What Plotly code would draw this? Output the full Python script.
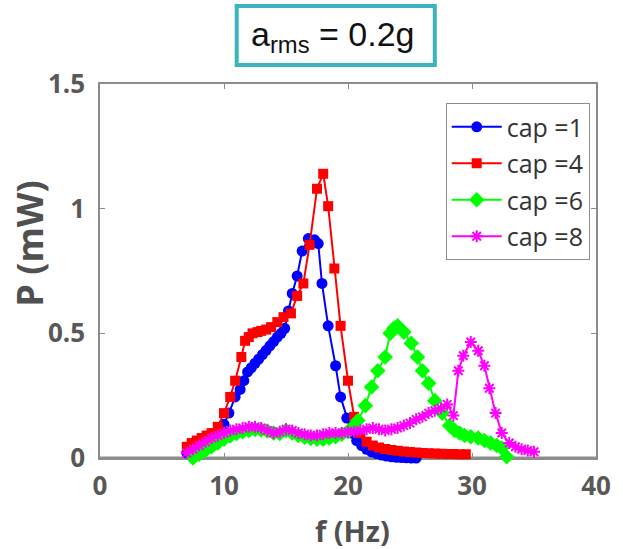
import plotly.graph_objects as go

# Harvested power P (mW) versus excitation frequency f (Hz), one sweep per cap setting
blue_f = [7.0, 7.5, 8.0, 8.5, 9.0, 9.5, 10.0, 10.4, 10.9, 11.3, 11.6, 11.9, 12.2, 12.5, 12.8, 13.1,
          13.4, 13.7, 14.0, 14.3, 14.6, 14.9, 15.2, 15.5, 15.9, 16.3, 16.8, 17.3, 17.6, 17.9, 18.4,
          19.0, 19.4, 19.9, 20.3, 20.7, 21.1, 21.5, 21.9, 22.3, 22.7, 23.1, 23.5, 23.9, 24.3, 24.7,
          25.1, 25.5]
blue_P = [0.02, 0.035, 0.05, 0.065, 0.08, 0.105, 0.135, 0.18, 0.245, 0.275, 0.31, 0.345, 0.362,
          0.38, 0.397, 0.415, 0.432, 0.45, 0.467, 0.485, 0.50, 0.52, 0.59, 0.66, 0.73, 0.83, 0.88,
          0.875, 0.86, 0.70, 0.53, 0.37, 0.245, 0.16, 0.10, 0.07, 0.05, 0.035, 0.025, 0.018, 0.012,
          0.008, 0.005, 0.003, 0.002, 0.001, 0.0, 0.0]

red_f = [7.0, 7.4, 7.8, 8.2, 8.6, 9.0, 9.5, 10.0, 10.5, 10.9, 11.4, 11.7, 12.0, 12.3, 12.7, 13.0,
         13.4, 13.8, 14.3, 14.8, 15.4, 15.9, 16.4, 16.9, 17.5, 18.0, 18.4, 18.9, 19.4, 20.0, 20.5,
         21.0, 21.5, 22.0, 22.5, 23.0, 23.5, 24.0, 24.5, 25.0, 25.5, 26.0, 26.5, 27.0, 27.5, 28.0,
         28.5, 29.0, 29.5]
red_P = [0.045, 0.06, 0.07, 0.08, 0.09, 0.10, 0.125, 0.18, 0.245, 0.31, 0.405, 0.47, 0.485, 0.50,
         0.505, 0.51, 0.515, 0.525, 0.545, 0.565, 0.58, 0.65, 0.70, 0.855, 1.08, 1.14, 1.01, 0.76,
         0.53, 0.31, 0.165, 0.10, 0.065, 0.05, 0.042, 0.036, 0.032, 0.029, 0.026, 0.024, 0.022,
         0.02, 0.019, 0.018, 0.017, 0.016, 0.016, 0.015, 0.015]

green_f = [7.0, 7.5, 8.0, 8.5, 9.0, 9.5, 10.0, 10.5, 11.0, 11.5, 12.0, 12.5, 13.0, 13.5, 14.0, 14.5,
           15.0, 15.5, 16.0, 16.5, 17.0, 17.5, 18.0, 18.5, 19.0, 19.5, 20.0, 20.4, 20.8, 21.4, 21.9,
           22.4, 23.0, 23.4, 23.7, 24.0, 24.5, 25.1, 25.6, 26.0, 26.5, 27.0, 27.6, 28.2, 28.6, 29.0,
           29.4, 29.9, 30.5, 31.0, 31.5, 32.0, 32.4, 32.8]
green_P = [-0.01, 0.0, 0.015, 0.03, 0.045, 0.06, 0.075, 0.088, 0.098, 0.105, 0.11, 0.115, 0.113,
           0.108, 0.10, 0.098, 0.11, 0.10, 0.09, 0.083, 0.078, 0.075, 0.075, 0.08, 0.085, 0.095,
           0.105, 0.125, 0.15, 0.21, 0.285, 0.35, 0.405, 0.50, 0.52, 0.53, 0.505, 0.46, 0.405, 0.35,
           0.30, 0.23, 0.18, 0.13, 0.11, 0.10, 0.09, 0.085, 0.08, 0.07, 0.06, 0.05, 0.04, 0.005]

mag_f = [7.0, 7.5, 8.0, 8.5, 9.0, 9.5, 10.0, 10.5, 11.0, 11.5, 12.0, 12.5, 13.0, 13.5, 14.0, 14.5,
         15.0, 15.5, 16.0, 16.5, 17.0, 17.5, 18.0, 18.5, 19.0, 19.5, 20.0, 20.5, 21.0, 21.5, 22.0,
         22.5, 23.0, 23.5, 24.0, 24.5, 25.0, 25.5, 26.0, 26.5, 27.0, 27.5, 28.0, 28.5, 28.9, 29.3,
         29.9, 30.5, 31.0, 31.4, 31.9, 32.4, 33.0, 33.5, 34.0, 34.5, 35.0]
mag_P = [0.02, 0.035, 0.05, 0.065, 0.08, 0.09, 0.10, 0.11, 0.115, 0.12, 0.125, 0.125, 0.12, 0.11,
         0.10, 0.105, 0.115, 0.11, 0.10, 0.095, 0.09, 0.09, 0.095, 0.10, 0.10, 0.10, 0.105, 0.105,
         0.11, 0.115, 0.12, 0.115, 0.11, 0.115, 0.12, 0.13, 0.14, 0.155, 0.165, 0.18, 0.19, 0.20,
         0.215, 0.17, 0.35, 0.41, 0.465, 0.43, 0.37, 0.28, 0.18, 0.10, 0.06, 0.045, 0.035, 0.03,
         0.025]

series = [
    ("cap =1", blue_f, blue_P, "#0000ff", "circle", 11),
    ("cap =4", red_f, red_P, "#ff0000", "square", 10),
    ("cap =6", green_f, green_P, "#00ff00", "diamond", 12),
    ("cap =8", mag_f, mag_P, "#ff00ff", "asterisk-open", 10),
]

x_ticks = [0, 10, 20, 30, 40]
y_ticks = [0, 0.5, 1, 1.5]
y_tick_text = ["0", "0.5", "1", "1.5"]

fig = go.Figure()
for i, (name, fx, py, color, symbol, size) in enumerate(series):
    marker = dict(color=color, symbol=symbol, size=size, line=dict(width=0))
    if symbol.endswith("open"):
        marker["line"] = dict(color=color, width=2)
    fig.add_trace(go.Scatter(
        x=fx, y=py, name=name, mode="lines+markers",
        line=dict(color=color, width=2), marker=marker,
        cliponaxis=False, legendgroup=f"g{i}",
    ))

axis_grey = "#8c8c8c"
tick_font = dict(family="Open Sans", size=26, color="#585858", weight="bold")

fig.update_layout(
    width=623, height=549,
    margin=dict(l=100, r=15, t=84, b=91),
    paper_bgcolor="white", plot_bgcolor="white",
    showlegend=True,
    legend=dict(
        x=0.697, y=0.949, xanchor="left", yanchor="top",
        bordercolor=axis_grey, borderwidth=1, bgcolor="white",
        font=dict(family="Open Sans", size=25, color="#333333"),
        traceorder="grouped", tracegroupgap=1, itemwidth=50,
    ),
    xaxis=dict(
        range=[0, 40], tickvals=x_ticks, ticks="inside", ticklen=5,
        tickcolor=axis_grey, showline=True, linecolor=axis_grey, linewidth=1.5,
        mirror="ticks", showgrid=False, zeroline=False, tickfont=tick_font,
        ticklabelstandoff=4, layer="below traces",
    ),
    yaxis=dict(
        range=[0, 1.5], tickvals=y_ticks, ticktext=y_tick_text, ticks="inside",
        ticklen=5, tickcolor=axis_grey, showline=True, linecolor=axis_grey,
        linewidth=1.5, mirror="ticks", showgrid=False, zeroline=False,
        tickfont=tick_font, ticklabelstandoff=8, layer="below traces",
    ),
)

# heavier baseline along P = 0
fig.add_shape(type="line", xref="x", yref="y", x0=0, x1=40, y0=0, y1=0,
              line=dict(color=axis_grey, width=3), layer="below")

# axis titles
fig.add_annotation(xref="paper", yref="paper", x=(359 - 100) / 508, y=(458 - 530) / 374,
                   text="f (Hz)", showarrow=False, xanchor="center", yanchor="middle",
                   font=dict(family="Open Sans", size=29, color="#505050", weight="bold"))
fig.add_annotation(xref="paper", yref="paper", x=(27 - 100) / 508, y=(458 - 243) / 374,
                   text="P (mW)", showarrow=False, textangle=-90,
                   xanchor="center", yanchor="middle",
                   font=dict(family="Open Sans", size=36, color="#505050", weight="bold"))

# heading box with the excitation level
fig.add_shape(type="rect", xref="paper", yref="paper",
              x0=0.2756, x1=0.675, y0=1.0508, y1=1.2086,
              line=dict(color="#3ab5bf", width=4), fillcolor="white")
fig.add_annotation(xref="paper", yref="paper", x=(339 - 100) / 508, y=(458 - 37) / 374,
                   xanchor="center", yanchor="middle",
                   text="a<sub>rms</sub> = 0.2g", showarrow=False,
                   font=dict(family="Liberation Sans", size=34, color="#111111"))

fig.write_html("out.html")
